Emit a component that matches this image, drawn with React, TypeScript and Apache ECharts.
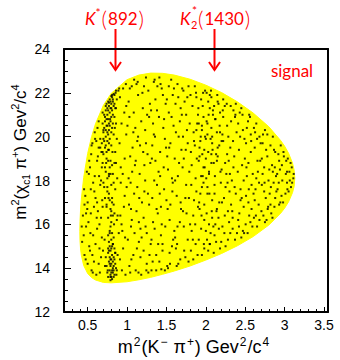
import { useEffect, useRef } from "react";
import * as echarts from "echarts";

// Axis ranges and labelled ticks
const xRange = [0.2, 3.55];
const yRange = [12, 24];
const xTickLabels = [0.5, 1, 1.5, 2, 2.5, 3, 3.5];

// Kinematic boundary of the Dalitz plot: m2(K- pi+) with upper / lower m2(chi_c1 pi+)
const boundaryMKpi = [0.401, 0.403, 0.41, 0.42, 0.45, 0.5, 0.55, 0.6, 0.7, 0.8, 1.0, 1.15, 1.3, 1.45, 1.6, 1.8, 2.0, 2.2, 2.4, 2.6, 2.8, 2.95, 3.0, 3.05, 3.1, 3.12, 3.129];
const boundaryUpper = [15.68, 16.12, 16.66, 17.15, 18.14, 19.23, 20.0, 20.59, 21.43, 21.98, 22.6, 22.81, 22.9, 22.89, 22.81, 22.62, 22.35, 22.01, 21.59, 21.08, 20.45, 19.82, 19.56, 19.24, 18.79, 18.47, 18.11];
const boundaryLower = [15.68, 15.28, 14.88, 14.59, 14.12, 13.76, 13.57, 13.46, 13.35, 13.33, 13.38, 13.47, 13.58, 13.72, 13.87, 14.1, 14.37, 14.67, 15.02, 15.44, 15.97, 16.51, 16.74, 17.03, 17.45, 17.73, 18.11];

// Events spread over the phase space
const phaseSpaceEvents = [
  [0.43,15.2],[0.44,16.4],[0.46,14.6],[0.47,17.3],[0.48,15.9],[0.49,18.4],[0.46,16.9],[0.5,14.2],
  [0.51,16.1],[0.52,18.9],[0.53,14.8],[0.54,17.6],[0.55,13.9],[0.56,19.7],[0.57,15.5],[0.58,16.8],[0.59,18.2],[0.52,15.0],[0.55,19.6],[0.58,14.3],[0.6,17.2],[0.54,16.5],
  [0.61,13.7],[0.62,15.8],[0.63,19.1],[0.64,20.7],[0.65,14.9],[0.66,17.8],[0.67,16.3],[0.68,18.6],[0.69,21.1],[0.62,17.0],[0.64,14.2],[0.66,19.9],[0.68,15.4],[0.7,20.3],[0.63,16.6],[0.67,18.0],
  [0.72,14.1],[0.74,16.9],[0.76,19.4],[0.78,15.6],[0.73,21.4],[0.77,18.3],[0.79,13.6],[0.75,20.5],[0.71,17.7],
  [0.82,15.1],[0.84,18.8],[0.86,21.3],[0.88,16.4],[0.83,13.9],[0.87,19.9],[0.81,17.2],[0.89,22.1],[0.85,14.7],
  [0.91,14.4],[0.92,17.9],[0.93,20.6],[0.94,15.7],[0.95,22.2],[0.96,16.8],[0.97,19.0],[0.98,13.7],[0.99,21.4],[0.92,18.6],[0.95,14.9],[0.97,17.3],[0.93,16.0],[0.99,20.1],[0.91,21.8],
  [1.01,15.3],[1.02,18.1],[1.03,20.9],[1.04,13.8],[1.05,16.7],[1.06,22.3],[1.07,19.5],[1.08,14.6],[1.09,17.4],[1.02,21.6],[1.05,15.9],[1.08,20.2],[1.1,18.7],[1.03,14.1],[1.06,16.2],[1.09,22.6],[1.04,19.1],
  [1.11,13.9],[1.12,16.6],[1.13,19.8],[1.14,21.9],[1.15,15.2],[1.16,18.3],[1.17,14.5],[1.18,20.7],[1.19,17.0],[1.12,22.4],[1.15,16.1],[1.18,13.7],[1.11,18.9],[1.14,20.0],[1.17,15.8],[1.2,21.3],[1.13,17.7],
  [1.21,14.8],[1.22,17.5],[1.23,20.3],[1.24,22.7],[1.25,15.6],[1.26,19.2],[1.27,13.8],[1.28,16.9],[1.29,21.5],[1.22,18.7],[1.25,14.2],[1.28,20.9],[1.21,16.3],[1.24,19.7],[1.27,22.1],[1.3,15.1],[1.23,18.0],
  [1.31,13.9],[1.32,17.2],[1.33,20.6],[1.34,22.5],[1.35,15.8],[1.36,18.9],[1.37,14.6],[1.38,21.2],[1.39,16.5],[1.32,19.6],[1.35,22.6],[1.38,17.8],[1.31,15.3],[1.34,20.1],[1.37,13.9],[1.4,18.4],[1.33,16.1],[1.36,21.7],
  [1.41,14.3],[1.42,19.3],[1.43,16.8],[1.44,22.2],[1.45,15.1],[1.46,20.4],[1.47,17.6],[1.48,13.9],[1.49,21.5],[1.42,18.2],[1.45,14.8],[1.48,19.9],[1.41,22.7],[1.44,16.0],[1.47,20.8],[1.5,17.1],[1.43,15.5],
  [1.51,14.1],[1.52,18.5],[1.53,21.1],[1.54,16.2],[1.55,19.7],[1.56,22.6],[1.57,15.0],[1.58,17.9],[1.59,20.5],[1.52,14.0],[1.55,16.9],[1.58,21.9],[1.51,19.1],[1.54,14.7],[1.57,18.1],[1.6,15.7],[1.53,22.3],
  [1.61,15.4],[1.62,20.2],[1.63,17.3],[1.64,22.4],[1.65,14.2],[1.66,18.8],[1.67,16.1],[1.68,21.3],[1.69,19.4],[1.62,14.9],[1.65,21.8],[1.68,17.0],[1.61,18.0],[1.64,15.9],[1.67,20.7],[1.7,22.2],[1.63,14.1],
  [1.71,16.6],[1.72,19.0],[1.73,21.6],[1.74,14.5],[1.75,17.8],[1.76,20.3],[1.77,15.3],[1.78,22.3],[1.79,18.4],[1.72,15.9],[1.75,21.0],[1.78,14.3],[1.71,20.0],[1.74,17.2],[1.77,19.7],[1.8,16.0],
  [1.81,14.8],[1.82,18.7],[1.83,21.4],[1.84,16.4],[1.85,19.8],[1.86,22.3],[1.87,15.1],[1.88,17.5],[1.89,20.6],[1.82,15.7],[1.85,17.1],[1.88,21.8],[1.81,19.3],[1.84,14.4],[1.87,18.1],[1.9,16.8],
  [1.91,15.3],[1.92,19.5],[1.93,17.4],[1.94,21.7],[1.95,14.6],[1.96,18.2],[1.97,20.9],[1.98,16.2],[1.99,22.1],[1.92,16.7],[1.95,20.3],[1.98,14.9],[1.91,18.9],[1.94,15.8],[1.97,17.9],[2.0,19.9],
  [2.01,16.5],[2.02,20.6],[2.03,14.8],[2.04,18.4],[2.05,21.9],[2.06,15.6],[2.07,19.2],[2.08,17.1],[2.09,21.2],[2.02,17.7],[2.05,15.1],[2.08,20.0],[2.01,22.0],[2.04,16.0],[2.07,18.8],[2.1,14.7],
  [2.11,17.4],[2.12,20.8],[2.13,15.2],[2.14,18.9],[2.15,21.6],[2.16,16.3],[2.17,19.6],[2.18,14.9],[2.19,17.9],[2.12,16.0],[2.15,19.1],[2.18,21.1],[2.11,15.5],[2.14,20.2],[2.17,17.0],[2.2,18.5],
  [2.21,15.9],[2.22,19.8],[2.23,17.2],[2.24,21.4],[2.25,15.0],[2.26,18.3],[2.27,20.5],[2.28,16.6],[2.29,18.9],[2.22,21.7],[2.25,17.7],[2.28,15.3],[2.21,20.1],[2.24,16.4],[2.27,19.2],[2.3,17.5],
  [2.31,15.6],[2.32,20.7],[2.33,18.0],[2.34,16.3],[2.35,21.2],[2.36,19.1],[2.37,15.3],[2.38,17.4],[2.39,20.2],[2.32,16.9],[2.35,18.6],[2.38,21.5],[2.31,19.5],[2.34,15.8],[2.37,20.9],
  [2.41,16.2],[2.42,19.4],[2.43,21.1],[2.44,17.6],[2.45,15.4],[2.46,18.7],[2.47,20.3],[2.48,16.8],[2.49,19.9],[2.42,15.9],[2.45,21.3],[2.48,18.0],[2.41,20.6],[2.44,17.1],[2.47,15.7],
  [2.51,17.3],[2.52,20.4],[2.53,15.6],[2.54,18.8],[2.55,16.4],[2.56,20.9],[2.57,19.3],[2.58,17.8],[2.59,15.9],[2.52,18.2],[2.55,21.0],[2.58,16.7],[2.51,19.7],[2.54,17.0],[2.57,20.1],
  [2.61,16.3],[2.62,19.5],[2.63,17.6],[2.64,20.6],[2.65,15.9],[2.66,18.4],[2.67,16.9],[2.68,20.0],[2.69,18.9],[2.62,17.1],[2.65,19.9],[2.68,16.2],[2.61,20.4],[2.64,18.1],
  [2.71,17.8],[2.72,19.7],[2.73,16.4],[2.74,18.6],[2.75,20.3],[2.76,17.2],[2.77,16.2],[2.78,19.1],[2.79,16.8],[2.72,18.3],[2.75,16.1],[2.78,20.1],[2.71,19.0],[2.74,17.5],
  [2.81,17.4],[2.82,19.6],[2.83,16.5],[2.84,18.7],[2.85,20.0],[2.86,17.9],[2.87,16.8],[2.88,19.3],[2.89,18.2],[2.82,16.9],[2.85,18.4],[2.88,17.2],
  [2.91,17.6],[2.92,19.2],[2.93,16.9],[2.94,18.5],[2.95,19.6],[2.96,17.3],[2.97,18.0],[2.98,17.0],[2.99,19.1],[2.93,18.9],
  [3.01,17.4],[3.02,18.9],[3.03,17.9],[3.04,19.0],[3.05,17.5],[3.06,18.4],[3.08,17.7],[3.09,18.6],[3.11,18.1],[3.03,18.4],
  [0.5,17.0],[0.53,18.6],[0.57,17.9],[0.6,15.1],[0.62,18.9],[0.65,16.0],[0.48,16.5],[0.56,14.6],[0.64,19.5],[0.67,14.5],[0.59,20.2],[0.45,15.5],[0.69,16.8],[0.61,19.8],
  [0.425,15.9],[0.455,17.6],[0.475,14.4],[0.495,16.7],
  [0.515,18.3],[0.535,15.6],[0.545,19.2],[0.565,13.8],[0.585,17.5],[0.595,19.9],
  [0.615,16.3],[0.625,20.4],[0.645,18.2],[0.655,13.8],[0.675,19.3],[0.685,17.1],[0.695,14.8],
  [0.715,15.3],[0.735,18.8],[0.755,13.9],[0.765,17.2],[0.785,20.8],[0.795,16.4],
  [0.815,19.3],[0.835,16.0],[0.845,20.4],[0.865,13.7],[0.875,18.1],[0.895,15.6],[0.855,22.0],
  [0.905,19.7],[0.915,16.4],[0.935,13.9],[0.945,18.3],[0.965,21.1],[0.975,15.4],[0.985,22.4],[0.995,17.7],
  [1.005,20.5],[1.025,16.9],[1.035,22.2],[1.055,14.4],[1.065,18.4],[1.085,21.1],[1.095,15.6],[1.045,17.9],
  [1.105,20.4],[1.125,14.9],[1.135,22.5],[1.155,17.2],[1.165,19.6],[1.185,15.4],[1.195,22.0],[1.145,13.8],
  [1.205,19.3],[1.215,22.3],[1.235,15.9],[1.255,21.0],[1.265,17.4],[1.285,14.6],[1.295,18.8],[1.245,13.9],
  [1.305,21.2],[1.325,14.3],[1.345,18.0],[1.355,20.0],[1.375,16.7],[1.385,22.3],[1.395,15.1],[1.315,19.0],
  [1.405,20.9],[1.415,17.4],[1.435,13.95],[1.455,21.9],[1.465,18.6],[1.485,15.9],[1.495,19.5],[1.425,22.4],
  [1.505,21.7],[1.515,16.7],[1.535,19.5],[1.545,14.2],[1.565,20.9],[1.575,17.5],[1.595,22.2],[1.585,15.3],
  [1.605,19.0],[1.615,21.5],[1.635,15.1],[1.645,18.2],[1.655,20.0],[1.675,14.4],[1.685,16.7],[1.695,21.0],
  [1.705,18.6],[1.715,22.1],[1.725,14.8],[1.745,19.4],[1.755,16.5],[1.765,21.8],[1.785,17.2],[1.795,20.6],
  [1.805,21.9],[1.815,17.8],[1.835,15.3],[1.845,20.2],[1.865,16.0],[1.875,22.0],[1.885,19.0],[1.895,14.6],
  [1.905,21.3],[1.915,17.0],[1.935,20.0],[1.945,16.4],[1.965,22.0],[1.975,15.1],[1.985,18.6],[1.955,19.2],
  [2.005,18.1],[2.015,15.3],[2.035,21.0],[2.045,17.4],[2.065,22.1],[2.075,16.6],[2.085,19.4],[2.095,15.9],
  [2.105,21.4],[2.115,18.2],[2.135,16.6],[2.145,21.9],[2.165,15.8],[2.175,20.5],[2.185,18.4],[2.195,15.2],
  [2.205,17.0],[2.215,21.2],[2.235,15.6],[2.245,18.8],[2.265,21.5],[2.275,17.9],[2.285,20.0],[2.295,16.1],
  [2.305,18.3],[2.315,21.4],[2.335,16.6],[2.345,19.8],[2.365,17.7],[2.375,21.0],[2.395,15.6],
  [2.405,18.4],[2.425,16.5],[2.435,20.0],[2.455,17.2],[2.465,21.0],[2.485,15.6],[2.495,19.0],
  [2.505,16.0],[2.515,18.6],[2.535,20.7],[2.545,17.6],[2.565,16.1],[2.575,19.8],[2.595,18.3],
  [2.605,17.4],[2.625,20.2],[2.635,16.4],[2.655,18.9],[2.675,17.9],[2.695,19.7],
  [2.705,16.6],[2.725,20.1],[2.745,17.9],[2.765,19.4],[2.785,16.7],[2.795,18.0],
  [2.805,18.5],[2.825,17.7],[2.845,16.3],[2.865,19.4],[2.875,18.6],[2.895,17.5],
  [2.905,18.3],[2.925,17.9],[2.945,17.0],[2.965,18.7],[2.985,19.3],
  [3.015,18.3],[3.035,17.6],[3.065,18.0],[3.075,18.8],[3.095,17.9],[3.115,18.3],
];

// Events clustered along the K*(892) band
const kstar892Events = [
  [0.86,22.1],[0.83,21.95],[0.84,21.9],[0.81,21.8],[0.8,21.85],[0.9,22.2],[0.78,21.7],[0.76,21.6],[0.8,21.5],[0.74,21.5],[0.77,21.4],[0.82,21.6],[0.85,21.3],[0.79,21.3],[0.73,21.2],[0.75,21.0],[0.78,21.1],[0.81,21.2],[0.71,21.0],[0.84,20.9],[0.76,20.8],[0.72,20.7],[0.79,20.7],[0.69,20.6],[0.74,20.5],[0.81,20.4],[0.77,20.3],[0.86,20.6],[0.7,20.2],[0.73,20.0],[0.78,19.9],[0.83,20.1],[0.75,19.8],[0.68,19.7],[0.8,19.6],[0.72,19.5],[0.77,19.4],[0.85,19.3],[0.7,19.2],[0.74,19.0],[0.79,18.9],[0.82,21.0],[0.75,21.3],[0.8,20.9],[0.77,20.6],[0.73,20.3],[0.87,21.7],[0.83,21.4],[0.81,21.9],[0.71,19.8],[0.76,20.1],[0.8,20.2],[0.74,19.3],[0.69,18.8],[0.66,19.5],
  [0.79,21.6],[0.82,21.7],[0.77,21.55],[0.8,21.3],[0.76,21.2],[0.84,21.5],[0.72,20.9],[0.78,20.5],[0.74,20.8],[0.71,20.4],[0.75,20.2],[0.82,20.6],[0.7,19.9],[0.77,19.7],[0.73,19.6],[0.69,19.3],[0.76,18.9],[0.72,18.6],[0.79,18.3],[0.75,17.5],
  [0.78,18.6],[0.82,18.3],[0.75,18.1],[0.8,17.8],[0.85,17.6],[0.77,17.4],[0.72,17.2],[0.81,17.0],[0.79,16.7],[0.84,16.5],[0.76,16.3],[0.8,16.1],[0.73,18.4],[0.83,17.9],[0.78,17.1],[0.86,18.8],[0.74,16.8],[0.82,16.4],[0.79,15.9],[0.77,18.2],[0.81,18.7],[0.75,17.7],[0.83,16.9],[0.7,17.9],[0.8,16.6],[0.78,15.7],[0.87,16.2],[0.76,15.5],
  [0.8,15.3],[0.82,15.1],[0.78,15.0],[0.84,14.9],[0.79,14.8],[0.81,14.6],[0.76,14.7],[0.83,14.5],[0.8,14.4],[0.77,14.3],[0.85,14.2],[0.79,14.1],[0.82,14.0],[0.78,13.9],[0.8,13.8],[0.84,13.7],[0.76,13.6],[0.81,13.5],[0.79,13.45],[0.83,13.6],[0.86,14.0],[0.74,14.1],[0.8,14.9],[0.77,15.2],[0.82,14.3],[0.78,14.5],[0.81,13.9],[0.75,13.8],[0.84,14.4],[0.87,13.9],[0.8,14.2],[0.79,13.7],[0.83,15.4],[0.76,14.9],[0.82,13.8],[0.78,14.2],[0.85,14.7],[0.73,14.5],[0.8,13.6],[0.88,14.6],
  [0.81,15.6],[0.77,14.8],[0.83,14.1],[0.79,14.4],[0.81,15.0],
];

// Events clustered along the K2*(1430) band
const k2star1430Events = [
  [1.95,20.5],[2.02,20.1],[2.08,19.7],[1.98,19.4],[2.12,20.8],[1.9,21.0],[2.05,21.3],[2.0,19.0],[2.15,19.5],[1.93,19.8],[2.07,20.4],[2.1,18.8],[1.97,18.6],[2.03,21.6],[1.88,20.3],[2.18,20.2],[2.01,20.7],[1.96,21.4],[2.09,21.0],[2.13,19.2],[1.99,20.0],[2.04,18.3],[1.92,19.1],[2.16,21.5],[2.06,19.9],[1.94,18.2],[2.11,17.8],[2.02,17.4],[1.98,16.9],[2.08,16.3],[2.0,15.7],[2.05,15.1],[1.95,17.7],[2.14,16.7],[2.03,19.3],[1.91,20.6],[2.2,19.8],[1.86,19.6],[2.07,21.8],[2.22,20.9],
];

const RED = "#ff0000";
const TITLE_FONT = "'Liberation Sans', Arial, sans-serif";
const NOTE_FONT = "Lato, 'Open Sans', sans-serif";

const noteRich = {
  k: { fontSize: 17, fontStyle: "italic", fontFamily: NOTE_FONT, fill: RED },
  s: { fontSize: 12, fontFamily: NOTE_FONT, fill: RED, verticalAlign: "top", lineHeight: 12 },
  p: { fontSize: 21, fontFamily: NOTE_FONT, fill: RED, fontWeight: 300, padding: [0, 1, 0, 1] },
  n: { fontSize: 17, fontFamily: NOTE_FONT, fill: RED },
};

function arrow(x: number) {
  return [
    { type: "line", shape: { x1: x, y1: 29, x2: x, y2: 70 }, style: { stroke: RED, lineWidth: 2 } },
    { type: "polyline", shape: { points: [[x - 5.5, 62], [x, 70], [x + 5.5, 62]] }, style: { stroke: RED, lineWidth: 2, fill: "none" } },
  ];
}

const frameAxis = { axisLine: { show: true, lineStyle: { color: "#000", width: 2 } }, axisTick: { show: false }, axisLabel: { show: false }, splitLine: { show: false } };

export default function App() {
  const ref = useRef<HTMLDivElement>(null);

  useEffect(() => {
    const chart = echarts.init(ref.current!, null, { renderer: "svg" });
    const outline = [
      ...boundaryMKpi.map((x, i) => [x, boundaryUpper[i]]),
      ...boundaryMKpi.map((x, i) => [x, boundaryLower[i]]).reverse(),
    ];
    const dots = (data: number[][]) => ({
      type: "scatter",
      data,
      symbol: "rect",
      symbolSize: 2,
      itemStyle: { color: "#000" },
      silent: true,
      z: 3,
    });

    chart.setOption({
      animation: false,
      backgroundColor: "#fff",
      grid: { left: 64, top: 49, width: 264, height: 263 },
      xAxis: [
        {
          type: "value",
          min: xRange[0],
          max: xRange[1],
          position: "bottom",
          axisLine: { show: true, lineStyle: { color: "#000", width: 2 } },
          splitLine: { show: false },
          axisTick: { show: true, inside: true, length: 5, customValues: xTickLabels, lineStyle: { color: "#000", width: 1 } },
          axisLabel: {
            customValues: xTickLabels,
            formatter: (v: number) => String(v),
            fontSize: 14,
            color: "#000",
            margin: 6,
            fontFamily: TITLE_FONT,
          },
        },
        {
          type: "value",
          min: xRange[0],
          max: xRange[1],
          interval: 0.1,
          position: "bottom",
          axisLine: { show: false },
          splitLine: { show: false },
          axisTick: { show: true, inside: true, length: 3, lineStyle: { color: "#000", width: 1 } },
          axisLabel: { show: false },
        },
        { type: "value", min: xRange[0], max: xRange[1], position: "top", ...frameAxis },
      ],
      yAxis: [
        {
          type: "value",
          min: yRange[0],
          max: yRange[1],
          interval: 2,
          position: "left",
          axisLine: { show: true, lineStyle: { color: "#000", width: 2 } },
          splitLine: { show: false },
          axisTick: { show: true, inside: true, length: 7, lineStyle: { color: "#000", width: 1 } },
          minorTick: { show: true, splitNumber: 4, length: 4, lineStyle: { color: "#000", width: 1 } },
          axisLabel: { fontSize: 14, color: "#000", margin: 14, fontFamily: TITLE_FONT },
        },
        { type: "value", min: yRange[0], max: yRange[1], position: "right", ...frameAxis },
      ],
      series: [
        {
          type: "custom",
          silent: true,
          z: 1,
          data: [[1.5, 18]],
          renderItem: (_p: any, api: any) => ({
            type: "polygon",
            shape: { points: outline.map((pt) => api.coord(pt)) },
            style: { fill: "#ffff00", stroke: "#ffff00", lineWidth: 1 },
          }),
        },
        dots(phaseSpaceEvents),
        dots(kstar892Events),
        dots(k2star1430Events),
      ],
      graphic: [
        {
          type: "text",
          x: 194,
          y: 347,
          style: {
            text: "m{s|2}(K{s|−} π{s|+}) Gev{s|2}/c{s|4}",
            font: `18px ${TITLE_FONT}`,
            fill: "#000",
            align: "center",
            verticalAlign: "middle",
            lineHeight: 22,
            rich: { s: { fontSize: 12, lineHeight: 12, verticalAlign: "top", fontFamily: TITLE_FONT, padding: [0, 1, 0, 1] } },
          },
        },
        {
          type: "text",
          x: 20,
          y: 152,
          rotation: Math.PI / 2,
          style: {
            text: "m{s|2}(χ{b|c1} π{s|+}) Gev{s|2}/c{s|4}",
            font: `17px ${TITLE_FONT}`,
            fill: "#000",
            align: "center",
            verticalAlign: "middle",
            lineHeight: 22,
            rich: {
              s: { fontSize: 11, lineHeight: 11, verticalAlign: "top", fontFamily: TITLE_FONT },
              b: { fontSize: 10, lineHeight: 10, verticalAlign: "bottom", fontFamily: TITLE_FONT },
            },
          },
        },
        // K*(892)
        {
          type: "text",
          x: 85,
          y: 18,
          style: { text: "{k|K}{s|*}{p|(}{n|892}{p|)}", fill: RED, align: "left", verticalAlign: "middle", lineHeight: 24, rich: noteRich },
        },
        // K2*(1430)
        { type: "text", x: 180, y: 18, style: { text: "{k|K}", fill: RED, align: "left", verticalAlign: "middle", lineHeight: 24, rich: noteRich } },
        { type: "text", x: 192, y: 10, style: { text: "*", font: `12px ${NOTE_FONT}`, fill: RED, align: "left", verticalAlign: "middle" } },
        { type: "text", x: 191, y: 24, style: { text: "2", font: `11px ${NOTE_FONT}`, fill: RED, align: "left", verticalAlign: "middle" } },
        { type: "text", x: 197, y: 18, style: { text: "{p|(}{n|1430}{p|)}", fill: RED, align: "left", verticalAlign: "middle", lineHeight: 24, rich: noteRich } },
        ...arrow(115.5),
        ...arrow(214.5),
        { type: "text", x: 292, y: 70, style: { text: "signal", font: `17px ${NOTE_FONT}`, fill: RED, align: "center", verticalAlign: "middle" } },
      ],
    });

    return () => chart.dispose();
  }, []);

  return <div ref={ref} style={{ position: "absolute", left: 0, top: 0, width: 340, height: 360 }} />;
}
